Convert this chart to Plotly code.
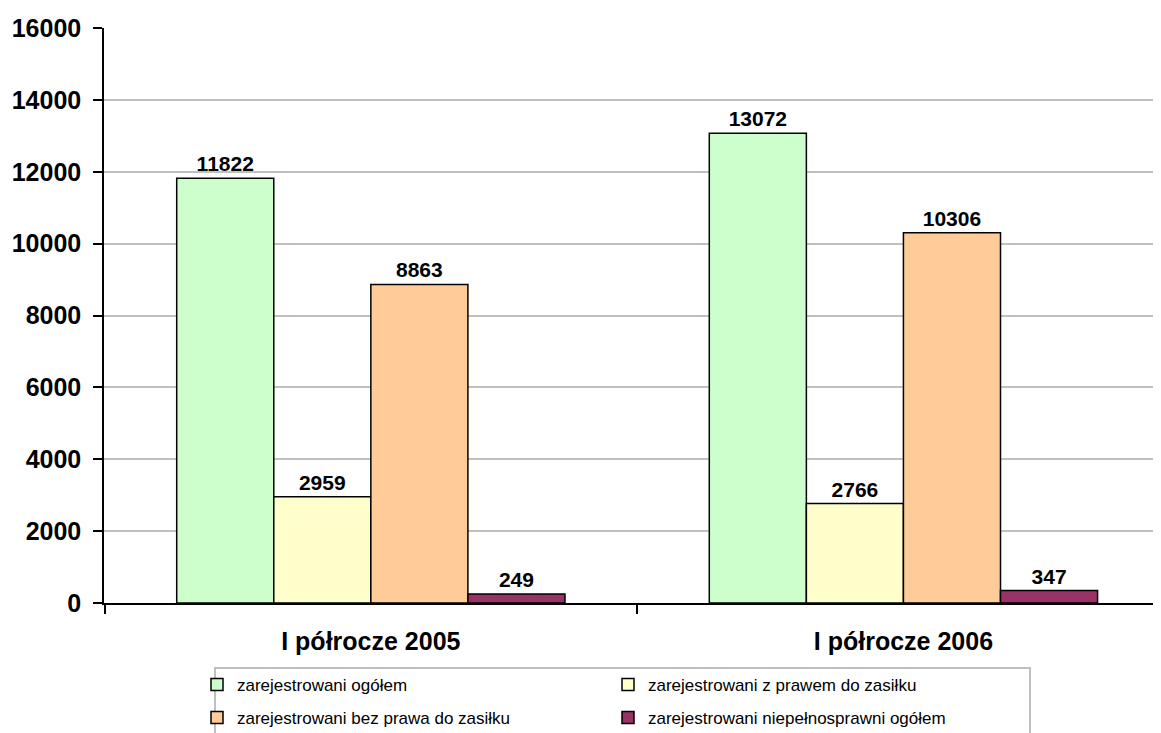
import plotly.graph_objects as go

# Categories and series values
categories = ['I półrocze 2005', 'I półrocze 2006']
series_names = [
    'zarejestrowani ogółem',
    'zarejestrowani z prawem do zasiłku',
    'zarejestrowani bez prawa do zasiłku',
    'zarejestrowani niepełnosprawni ogółem',
]
ogolem = [11822, 13072]
z_prawem = [2959, 2766]
bez_prawa = [8863, 10306]
niepelnosprawni = [249, 347]
colors = ['#CCFFCC', '#FFFFCC', '#FFCC99', '#993366']
# legend rows: first two series in the top row, last two in the bottom row
legend_rows = ['legend', 'legend', 'legend2', 'legend2']

FONT = 'Liberation Sans, Arial'

fig = go.Figure()
for name, vals, col, lg in zip(series_names, [ogolem, z_prawem, bez_prawa, niepelnosprawni],
                               colors, legend_rows):
    fig.add_trace(go.Bar(
        x=categories,
        y=vals,
        name=name,
        legend=lg,
        marker=dict(color=col, line=dict(color='black', width=1.5)),
        text=[str(v) for v in vals],
        textposition='outside',
        texttemplate='<b>%{text}</b>',
        textfont=dict(family=FONT, size=21, color='black'),
        cliponaxis=False,
    ))

legend_style = dict(
    orientation='h',
    xref='container', x=189 / 1153, xanchor='left',
    yref='container', yanchor='middle',
    entrywidth=366,
    font=dict(size=17, color='black', family=FONT),
    bgcolor='rgba(0,0,0,0)',
    borderwidth=0,
    traceorder='normal',
    itemwidth=30,
)

fig.update_layout(
    width=1153,
    height=725,
    margin=dict(l=96, r=0, t=20, b=130, autoexpand=False),
    barmode='group',
    bargap=0.271,
    bargroupgap=0,
    plot_bgcolor='white',
    paper_bgcolor='white',
    font=dict(family=FONT, color='black'),
    showlegend=True,
    legend=dict(legend_style, y=1 - 677 / 725),
    legend2=dict(legend_style, y=1 - 710 / 725),
    # frame around the legend
    shapes=[dict(
        type='rect', xref='paper', yref='paper',
        x0=(207 - 96) / 1057, x1=(1022 - 96) / 1057,
        y0=(595 - 660) / 575, y1=(595 - 760) / 575,
        line=dict(color='#BFBFBF', width=2),
        fillcolor='rgba(0,0,0,0)',
        layer='below',
    )],
)

fig.update_xaxes(
    range=[-0.501, 1.4836],
    automargin=False,
    showline=True, linecolor='black', linewidth=1.5,
    ticks='outside', tickson='boundaries', ticklen=9, tickcolor='black', tickwidth=1.5,
    tickfont=dict(size=25, color='black', family=FONT),
    tickprefix='<b>', ticksuffix='</b>',
    ticklabelstandoff=15,
)
fig.update_yaxes(
    range=[0, 16000],
    dtick=2000,
    tickformat='d',
    automargin=False,
    showgrid=True, gridcolor='#C0C0C0', gridwidth=1.5,
    showline=True, linecolor='black', linewidth=1.5,
    ticks='outside', ticklen=9, tickcolor='black', tickwidth=1.5,
    tickfont=dict(size=25, color='black', family=FONT),
    tickprefix='<b>', ticksuffix='</b>',
    zeroline=False,
    ticklabelstandoff=7,
)

fig.write_html('out.html')
